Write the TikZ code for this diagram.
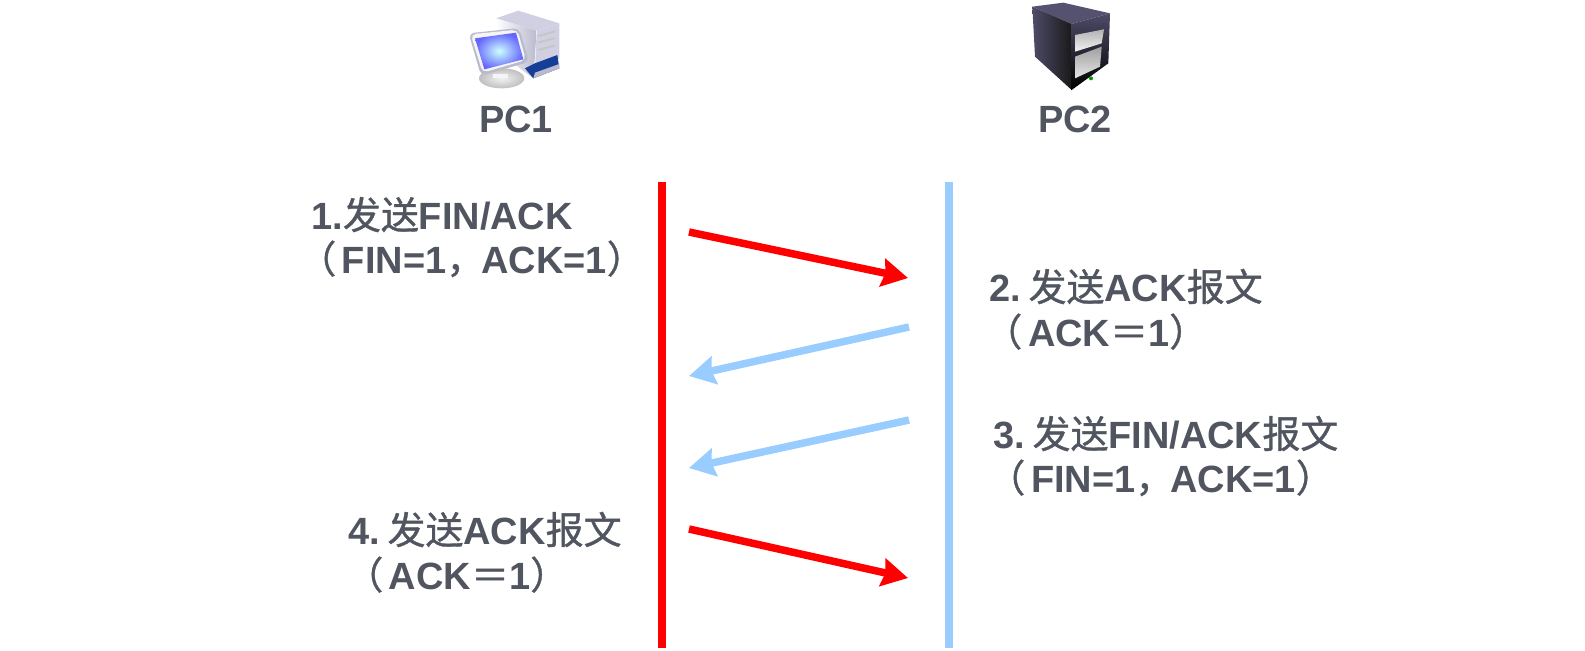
\documentclass[tikz,border=0pt]{standalone}
\usepackage{fontspec}
\setmainfont{Liberation Sans}
\newfontfamily\cjkfont[FakeBold=1]{Noto Sans CJK SC}
\usetikzlibrary{arrows.meta, positioning, calc}
\newcommand{\zh}[1]{{\cjkfont\mdseries #1}}
\newcommand{\lp}{\zh{（}\kern0.15em\relax}
\newcommand{\cm}{\zh{，}\kern-0.08em\relax}
\newcommand{\nsp}{\kern0.2em\relax}
\definecolor{lineblue}{RGB}{153,204,255}
\definecolor{textgray}{RGB}{80,85,95}
\definecolor{towerlight}{RGB}{208,208,226}
\definecolor{towermid}{RGB}{186,186,206}
\definecolor{basedark}{RGB}{22,62,150}
\definecolor{serverside}{RGB}{78,76,104}
\definecolor{servertop}{RGB}{84,82,110}

\begin{document}
\begin{tikzpicture}[x=0.02cm, y=-0.02cm, >={Stealth[length=0.52cm, width=0.56cm, inset=0.06cm]},
    label text/.style={text=textgray, font=\bfseries\fontsize{21.6}{26}\selectfont, inner sep=0pt, anchor=base west},
    host name/.style={text=textgray, font=\bfseries\fontsize{21.6}{26}\selectfont, inner sep=0pt, anchor=base},
    life red/.style={draw=red, line width=1.6mm},
    life blue/.style={draw=lineblue, line width=1.6mm},
    msg red/.style={->, draw=red, fill=red, line width=1.5mm},
    msg blue/.style={->, draw=lineblue, fill=lineblue, line width=1.5mm}]
\useasboundingbox (0,0) rectangle (1585,650);

% PC1 icon
\begin{scope}[shift={(440,0)}, x=0.00667cm, y=-0.00667cm]
\fill[towerlight] (168,55) -- (235,32) -- (358,70) -- (290,92) -- cycle;
\shade[left color=white, right color=towermid] (168,55) -- (290,92) -- (280,235) -- (168,150) -- cycle;
\fill[towerlight] (290,92) -- (358,70) -- (358,175) -- (285,205) -- cycle;
\fill[basedark] (255,205) -- (285,190) -- (352,165) -- (358,205) -- (280,235) -- cycle;
\fill[towermid] (285,218) -- (358,192) -- (358,205) -- (280,235) -- cycle;
\foreach \ya in {108,128,150}
  \draw[gray!45, line width=0.4mm] (295,\ya) -- (345,\ya-14);
\shade[inner color=gray!10, outer color=gray!50] (185,235) ellipse (68 and 30);
\fill[gray!8] (160,222) rectangle (205,235);
\fill[towermid, rounded corners=3pt] (86,100) -- (237,84) -- (267,186) -- (123,227) -- cycle;
\fill[gray!8, rounded corners=3pt] (92,103) -- (232,89) -- (258,180) -- (128,218) -- cycle;
\shade[inner color=cyan!20, outer color=blue!60!white] (105,115) -- (228,98) -- (250,178) -- (133,208) -- cycle;
\end{scope}

% PC2 icon
\begin{scope}[shift={(1000,0)}, x=0.00667cm, y=-0.00667cm]
\fill[servertop] (97,20) -- (190,8) -- (330,40) -- (215,72) -- cycle;
\shade[left color=serverside, right color=black!90] (97,20) -- (215,72) -- (215,270) -- (105,170) -- cycle;
\shade[top color=serverside, bottom color=black] (215,72) -- (330,40) -- (325,190) -- (215,270) -- cycle;
\shade[top color=gray!60, bottom color=gray!10] (225,105) -- (312,88) -- (305,130) -- (225,155) -- cycle;
\shade[top color=gray!75, bottom color=gray!20] (225,170) -- (305,140) -- (300,200) -- (225,235) -- cycle;
\fill[green!60!black] (273,235) circle (6);
\end{scope}

% host names
\node (pc1) [host name] at (516,132) {PC1};
\node (pc2) [host name] at (1075,132) {PC2};

% life lines
\coordinate (redtop) at (662,182);
\coordinate (redbot) at (662,648);
\coordinate (bluetop) at (949,182);
\coordinate (bluebot) at (949,648);
\draw[life red] (redtop) -- (redbot);
\draw[life blue] (bluetop) -- (bluebot);

% messages
\coordinate (m1a) at (689,232);
\coordinate (m1b) at (908,278);
\coordinate (m2a) at (909,327);
\coordinate (m2b) at (689,376);
\coordinate (m3a) at (909,420);
\coordinate (m3b) at (689,468);
\coordinate (m4a) at (689,529);
\coordinate (m4b) at (908,578);
\draw[msg red] (m1a) -- (m1b);
\draw[msg blue] (m2a) -- (m2b);
\draw[msg blue] (m3a) -- (m3b);
\draw[msg red] (m4a) -- (m4b);

% labels
\node (l1a) [label text] at (311,229) {1.\zh{发送}FIN/ACK};
\node (l1b) [label text] at (298,273) {\lp FIN=1\cm ACK=1\zh{）}};
\node (l2a) [label text] at (989,301) {2.\nsp\zh{发送}ACK\zh{报文}};
\node (l2b) [label text] at (984,346) {\lp ACK\zh{＝}1\zh{）}};
\node (l3a) [label text] at (993,448) {3.\nsp\zh{发送}FIN/ACK\zh{报文}};
\node (l3b) [label text] at (987,492) {\lp FIN=1\cm ACK=1\zh{）}};
\node (l4a) [label text] at (348,544) {4.\nsp\zh{发送}ACK\zh{报文}};
\node (l4b) [label text] at (345,589) {\lp ACK\zh{＝}1\zh{）}};
\end{tikzpicture}
\end{document}
